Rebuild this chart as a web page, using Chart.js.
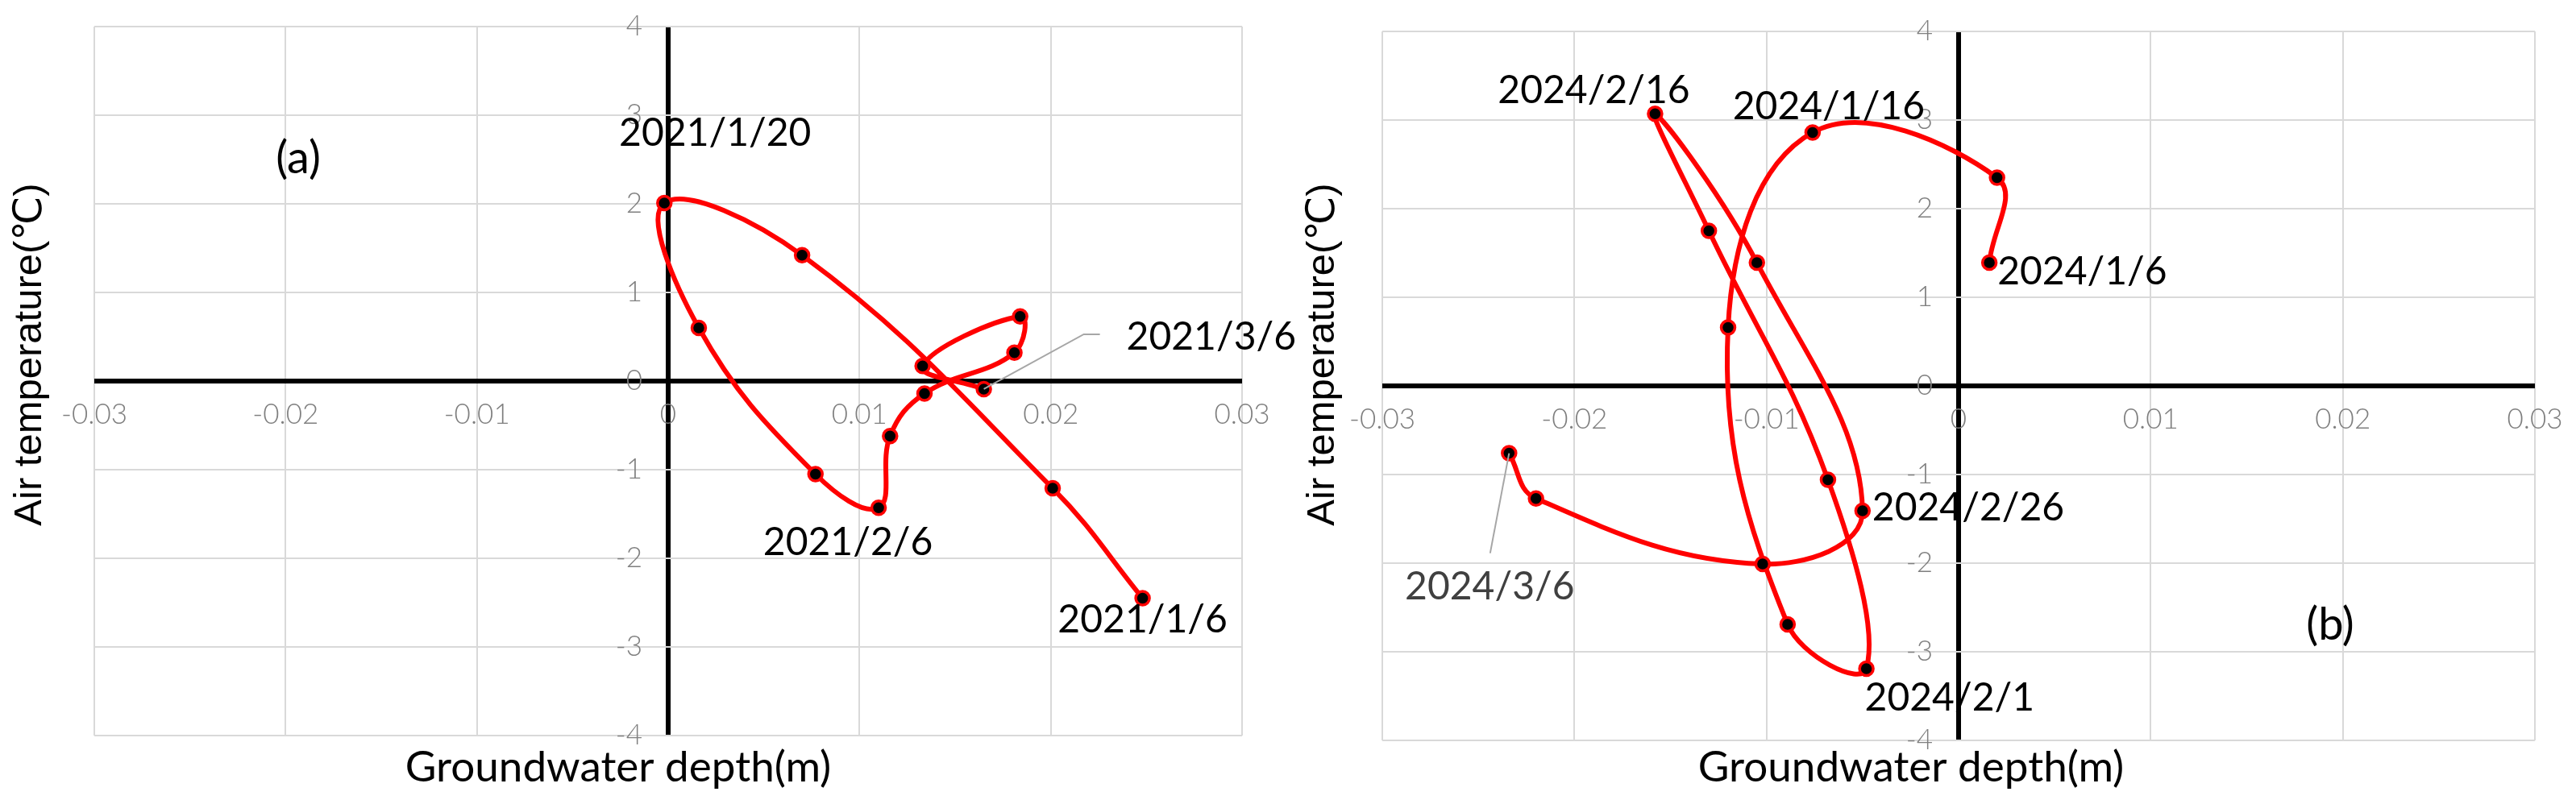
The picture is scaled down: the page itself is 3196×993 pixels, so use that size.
<!DOCTYPE html>
<html>
<head>
<meta charset="utf-8">
<script src="https://cdn.jsdelivr.net/npm/chart.js@4/dist/chart.umd.min.js"></script>
<style>
  html, body { margin: 0; padding: 0; background: #ffffff; }
  body { width: 3196px; height: 993px; position: relative; overflow: hidden; }
  canvas { position: absolute; top: 0; }
  #chartA { left: 0px; }
  #chartB { left: 1598px; }
</style>
</head>
<body>
<canvas id="chartA" width="1700" height="993"></canvas>
<canvas id="chartB" width="1598" height="993"></canvas>
<script>
// ---------- data ----------
// Panel (a): 2021/1/6 -> 2021/3/6
const depthA = [0.0248, 0.0201, 0.0070, -0.0002, 0.0016, 0.0077, 0.0110, 0.0116, 0.0134, 0.0181, 0.0184, 0.0133, 0.0165];
const tempA  = [-2.45, -1.21, 1.42, 2.01, 0.60, -1.05, -1.43, -0.62, -0.14, 0.32, 0.73, 0.17, -0.09];
const labelIdxA  = [0, 3, 6, 12];
const labelTextA = ['2021/1/6', '2021/1/20', '2021/2/6', '2021/3/6'];

// Panel (b): 2024/1/6 -> 2024/3/6
const depthB = [0.0016, 0.0020, -0.0076, -0.0120, -0.0089, -0.0048, -0.0068, -0.0130, -0.0158, -0.0105, -0.0050, -0.0102, -0.0220, -0.0234];
const tempB  = [1.39, 2.35, 2.86, 0.66, -2.69, -3.19, -1.06, 1.75, 3.07, 1.39, -1.41, -2.01, -1.27, -0.76];
const labelIdxB  = [0, 2, 5, 8, 10, 13];
const labelTextB = ['2024/1/6', '2024/1/16', '2024/2/1', '2024/2/16', '2024/2/26', '2024/3/6'];

const xTickValues = [-0.03, -0.02, -0.01, 0, 0.01, 0.02, 0.03];
const xTickLabels = ['-0.03', '-0.02', '-0.01', '0', '0.01', '0.02', '0.03'];
const yTickValues = [-4, -3, -2, -1, 0, 1, 2, 3, 4];
const yTickLabels = ['-4', '-3', '-2', '-1', '0', '1', '2', '3', '4'];

const xTitle = 'Groundwater depth(m)';
const yTitle = 'Air temperature(℃)';
const panelTags = ['(a)', '(b)'];

// ---------- label placement (pixel offsets from the data point) ----------
const placeA = [
  { dx: 0,   dy: 27,  align: 'center', color: '#000000' },
  { dx: 63,  dy: -86, align: 'center', color: '#000000' },
  { dx: -38, dy: 43,  align: 'center', color: '#000000' },
  { dx: 177, dy: -64, align: 'left',   color: '#000000', leader: [[124, -68], [144, -68]] }
];
const placeB = [
  { dx: 10,  dy: 11,  align: 'left',   color: '#000000' },
  { dx: 20,  dy: -32, align: 'center', color: '#000000' },
  { dx: -2,  dy: 37,  align: 'left',   color: '#000000' },
  { dx: -76, dy: -29, align: 'center', color: '#000000' },
  { dx: 12,  dy: -4,  align: 'left',   color: '#000000' },
  { dx: -24, dy: 166, align: 'center', color: '#404040', leader: [[-23.5, 124]] }
];

const LABEL_FONT = '48px Lato, "Open Sans", sans-serif';
const TICK_FONT = '300 35px Lato, "Open Sans", sans-serif';

function makeChart(id, xs, ys, idxs, texts, place, deco, padding) {
  const pts = xs.map((x, i) => ({ x: x, y: ys[i] }));
  const overlay = {
    id: 'overlay_' + id,
    afterDatasetsDraw(chart) {
      const c = chart.ctx;
      const sx = chart.scales.x, sy = chart.scales.y;
      const x0 = sx.getPixelForValue(0), y0 = sy.getPixelForValue(0);
      c.save();
      // tick labels at the crossing axes
      c.font = TICK_FONT;
      c.fillStyle = '#7f7f7f';
      c.textBaseline = 'middle';
      c.textAlign = 'right';
      yTickValues.forEach((v, i) => c.fillText(yTickLabels[i], x0 - 32, sy.getPixelForValue(v)));
      c.textAlign = 'center';
      xTickValues.forEach((v, i) => c.fillText(xTickLabels[i], sx.getPixelForValue(v), y0 + 42));
      // leader lines + data labels
      c.font = LABEL_FONT;
      idxs.forEach((pi, k) => {
        const px = sx.getPixelForValue(xs[pi]);
        const py = sy.getPixelForValue(ys[pi]);
        const p = place[k];
        if (p.leader) {
          c.strokeStyle = '#a6a6a6';
          c.lineWidth = 2;
          c.beginPath();
          c.moveTo(px, py);
          p.leader.forEach(q => c.lineTo(px + q[0], py + q[1]));
          c.stroke();
        }
        c.fillStyle = p.color;
        c.textAlign = p.align;
        c.textBaseline = 'middle';
        c.fillText(texts[k], px + p.dx, py + p.dy);
      });
      // axis titles and panel tag
      c.fillStyle = '#000000';
      c.textAlign = 'center';
      c.textBaseline = 'middle';
      c.font = '53px Lato, "Open Sans", sans-serif';
      c.fillText(xTitle, deco.xTitle[0], deco.xTitle[1]);
      c.font = '56px Lato, "Open Sans", sans-serif';
      c.fillText(deco.tag, deco.tagPos[0], deco.tagPos[1]);
      c.save();
      c.translate(deco.yTitle[0], deco.yTitle[1]);
      c.rotate(-Math.PI / 2);
      c.font = '49px "Liberation Sans", Arial, "DejaVu Sans", sans-serif';
      c.fillText(yTitle, 0, 0);
      c.restore();
      c.restore();
    }
  };
  const gridColor = ctx => (Math.abs(ctx.tick.value) < 1e-9 ? '#000000' : '#d9d9d9');
  const gridWidth = ctx => (Math.abs(ctx.tick.value) < 1e-9 ? 6 : 2);
  return new Chart(document.getElementById(id), {
    type: 'scatter',
    data: {
      datasets: [{
        data: pts,
        showLine: true,
        tension: 0.4,
        borderColor: '#ff0000',
        borderWidth: 6,
        pointRadius: 8.5,
        pointHoverRadius: 8.5,
        pointBorderWidth: 3.5,
        pointBackgroundColor: '#000000',
        pointBorderColor: '#ff0000',
        clip: false
      }]
    },
    options: {
      responsive: false,
      animation: false,
      devicePixelRatio: 1,
      layout: { padding: padding },
      plugins: { legend: { display: false }, tooltip: { enabled: false } },
      scales: {
        x: {
          type: 'linear', min: -0.03, max: 0.03,
          ticks: { display: false, stepSize: 0.01 },
          grid: { color: gridColor, lineWidth: gridWidth, drawTicks: false },
          border: { display: false },
          afterFit: s => { s.height = 0; }
        },
        y: {
          type: 'linear', min: -4, max: 4,
          ticks: { display: false, stepSize: 1 },
          grid: { color: gridColor, lineWidth: gridWidth, drawTicks: false },
          border: { display: false },
          afterFit: s => { s.width = 0; }
        }
      }
    },
    plugins: [overlay]
  });
}

makeChart('chartA', depthA, tempA, labelIdxA, labelTextA, placeA,
  { xTitle: [767, 953], yTitle: [37, 440], tag: panelTags[0], tagPos: [370, 197] },
  { left: 117, right: 159, top: 33, bottom: 80 });

makeChart('chartB', depthB, tempB, labelIdxB, labelTextB, placeB,
  { xTitle: [2371 - 1598, 953], yTitle: [43, 440], tag: panelTags[1], tagPos: [2891 - 1598, 776] },
  { left: 117, right: 51, top: 39, bottom: 74 });
</script>
</body>
</html>
